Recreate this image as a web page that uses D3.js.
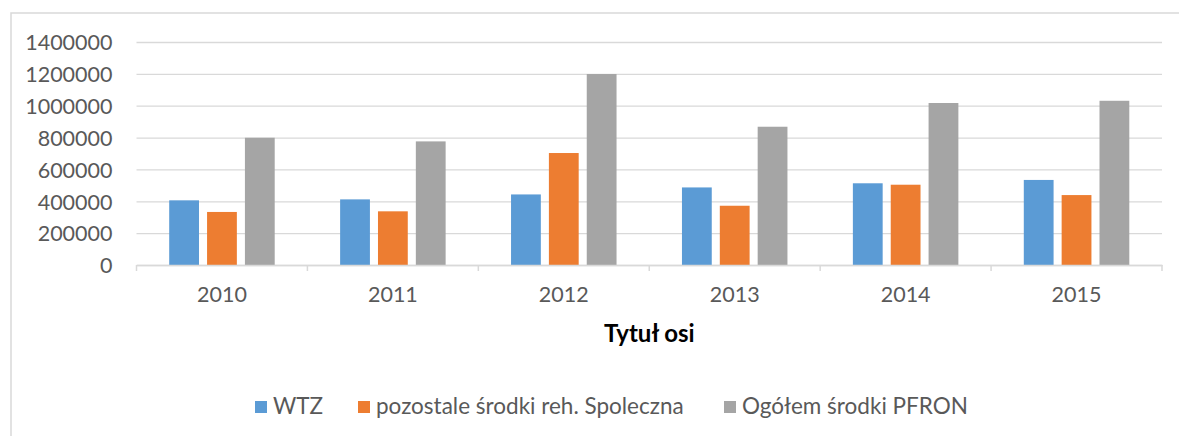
<!DOCTYPE html>
<html>
<head>
<meta charset="utf-8">
<script src="https://cdn.jsdelivr.net/npm/d3@7"></script>
<style>
  body { margin: 0; background: #fff; }
  text { font-family: Lato, "Open Sans", sans-serif; }
</style>
</head>
<body>
<div id="chart"></div>
<script>
var years = ["2010", "2011", "2012", "2013", "2014", "2015"];
var seriesNames = ["WTZ", "pozostale środki reh. Spoleczna", "Ogółem środki PFRON"];
var wtz = [406000, 412000, 443000, 487000, 513000, 534000];
var pozostale = [333000, 337000, 703000, 372000, 504000, 439000];
var ogolem = [799000, 776000, 1199000, 868000, 1017000, 1031000];
var yTicks = [0, 200000, 400000, 600000, 800000, 1000000, 1200000, 1400000];
var colors = ["#5b9bd5", "#ed7d31", "#a5a5a5"];
var axisTitle = "Tytuł osi";

var width = 1179, height = 436;
var plotLeft = 136.5, plotRight = 1162, plotTop = 42, plotBottom = 265;

var svg = d3.select("#chart").append("svg")
  .attr("width", width)
  .attr("height", height);

// chart frame
svg.append("rect")
  .attr("x", 11).attr("y", 13)
  .attr("width", width + 20).attr("height", height + 20)
  .attr("fill", "none")
  .attr("stroke", "#d9d9d9")
  .attr("stroke-width", 1.5);

var y = d3.scaleLinear().domain([0, 1400000]).range([plotBottom, plotTop]);
var x0 = d3.scaleBand().domain(years).range([plotLeft, plotRight]).padding(0);
var groupW = 105.5;
var x1 = d3.scaleBand().domain(d3.range(3))
  .range([(x0.step() - groupW) / 2, (x0.step() + groupW) / 2])
  .paddingInner(0.213).paddingOuter(0);

// gridlines + y labels
var yAxis = svg.append("g")
  .attr("transform", "translate(" + plotLeft + ",0)")
  .call(d3.axisLeft(y).tickValues(yTicks).tickSize(-(plotRight - plotLeft)).tickPadding(24).tickFormat(d3.format("d")));
yAxis.select(".domain").remove();
yAxis.selectAll(".tick line")
  .attr("stroke", "#d9d9d9")
  .attr("stroke-width", 1.3);
yAxis.selectAll(".tick text")
  .attr("fill", "#595959")
  .style("font-size", "21.5px")
  .attr("dy", "0.36em");

// bars
var table = years.map(function(yr, i) {
  return { year: yr, values: [wtz[i], pozostale[i], ogolem[i]] };
});

var groups = svg.append("g").selectAll("g")
  .data(table)
  .join("g")
  .attr("transform", function(d) { return "translate(" + x0(d.year) + ",0)"; });

groups.selectAll("rect")
  .data(function(d) { return d.values.map(function(v, j) { return { s: j, v: v }; }); })
  .join("rect")
  .attr("x", function(d) { return x1(d.s); })
  .attr("width", x1.bandwidth())
  .attr("y", function(d) { return y(d.v); })
  .attr("height", function(d) { return plotBottom - y(d.v); })
  .attr("fill", function(d) { return colors[d.s]; });

// x axis
var xAxis = svg.append("g")
  .attr("transform", "translate(0," + plotBottom + ")")
  .call(d3.axisBottom(x0).tickSize(0).tickPadding(22));
xAxis.select(".domain")
  .attr("stroke", "#d9d9d9")
  .attr("stroke-width", 1.5);
xAxis.selectAll(".tick text")
  .attr("fill", "#595959")
  .style("font-size", "21.5px");

// boundary ticks
svg.append("g").selectAll("line")
  .data(d3.range(years.length + 1))
  .join("line")
  .attr("x1", function(i) { return plotLeft + i * x0.step(); })
  .attr("x2", function(i) { return plotLeft + i * x0.step(); })
  .attr("y1", plotBottom)
  .attr("y2", plotBottom + 6)
  .attr("stroke", "#d9d9d9")
  .attr("stroke-width", 1.5);

// axis title
svg.append("text")
  .attr("x", (plotLeft + plotRight) / 2)
  .attr("y", 342)
  .attr("text-anchor", "middle")
  .attr("fill", "#000")
  .style("font-size", "24px")
  .style("font-weight", "bold")
  .text(axisTitle);

// legend
var legendX = [255, 358, 724];
var legend = svg.append("g").selectAll("g")
  .data(seriesNames)
  .join("g")
  .attr("transform", function(d, i) { return "translate(" + legendX[i] + ",401)"; });
legend.append("rect")
  .attr("width", 12).attr("height", 12)
  .attr("fill", function(d, i) { return colors[i]; });
legend.append("text")
  .attr("x", 18)
  .attr("y", 12.5)
  .attr("fill", "#595959")
  .style("font-size", "22.5px")
  .text(function(d) { return d; });
</script>
</body>
</html>
